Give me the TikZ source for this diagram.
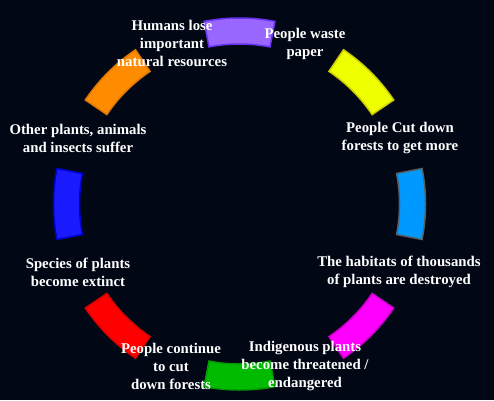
\documentclass[tikz,border=0pt]{standalone}
\usepackage{fontspec}
\setmainfont{Liberation Serif}
\usepackage{tikz}
\definecolor{bgnavy}{RGB}{2,7,22}
\definecolor{purplefill}{HTML}{9966FF}
\definecolor{purpleedge}{HTML}{6633EE}
\definecolor{yellowfill}{HTML}{EEFF00}
\definecolor{yellowedge}{HTML}{CCCC00}
\definecolor{skyfill}{HTML}{0099FF}
\definecolor{skyedge}{HTML}{556066}
\definecolor{magentafill}{HTML}{FF00FF}
\definecolor{magentaedge}{HTML}{CC00CC}
\definecolor{greenfill}{HTML}{00BB00}
\definecolor{greenedge}{HTML}{009900}
\definecolor{redfill}{HTML}{FF0000}
\definecolor{rededge}{HTML}{DD0000}
\definecolor{bluefill}{HTML}{1A1AFF}
\definecolor{blueedge}{HTML}{0000CC}
\definecolor{orangefill}{HTML}{FF8C00}
\definecolor{orangeedge}{HTML}{DD7700}
\tikzstyle{segment} = [line width=1.5pt, line join=miter]
\tikzstyle{label} = [text=white, align=center, font=\bfseries\fontsize{14.8}{18}\selectfont, inner sep=0pt]

\begin{document}
\begin{tikzpicture}[x=1pt, y=1pt]
\fill[bgnavy] (0,0) rectangle (494,400);
\useasboundingbox (0,0) rectangle (494,400);
\coordinate (c) at (239.5,196);

% ring of segments
\foreach \a/\col in {90/purple, 45/yellow, 0/sky, -45/magenta, -90/green, -135/red, 180/blue, 135/orange}
  \draw[segment, fill=\col fill, draw=\col edge] ([shift={(\a-11:160)}]c) arc[start angle=\a-11, end angle=\a+11, radius=160] -- ([shift={(\a+11:186)}]c) arc[start angle=\a+11, end angle=\a-11, radius=186] -- cycle;

\node (lose) [label] at (172,357) {Humans lose\\important\\natural resources};
\node (waste) [label] at (305,356) {People waste\\paper};
\node (cutdown) [label] at (400,262) {People Cut down\\forests to get more};
\node (habitats) [label] at (399,128) {The habitats of thousands\\of plants are destroyed};
\node (indigenous) [label] at (305,34) {Indigenous plants\\become threatened /\\endangered};
\node (continue) [label] at (171,34) {People continue\\to cut\\down forests};
\node (extinct) [label] at (78,128) {Species of plants\\become extinct};
\node (suffer) [label] at (78,262) {Other plants, animals\\and insects suffer};
\end{tikzpicture}
\end{document}
